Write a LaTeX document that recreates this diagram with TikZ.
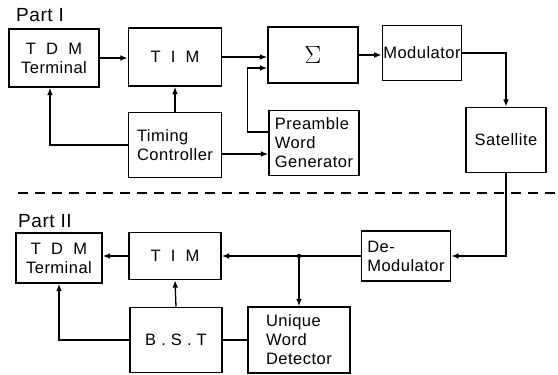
\documentclass[tikz,border=0pt]{standalone}
\usepackage{fontspec}
\setmainfont[LetterSpace=3]{Liberation Sans}
\usetikzlibrary{arrows.meta,positioning,calc}

\begin{document}
\begin{tikzpicture}[x=1pt,y=-1pt,
  every node/.style={font=\fontsize{16.5}{19}\selectfont},
  blk/.style={draw=black,line width=1.5pt,align=center,inner sep=2pt},
  blkl/.style={blk,align=left},
  part/.style={font=\fontsize{19}{19}\selectfont},
  ar/.style={-{Latex[length=2.6mm,width=2mm]},line width=1.3pt},
  ln/.style={line width=1.3pt}]
\useasboundingbox (0,0) rectangle (558,375);
% Part I
\node[part] (p1) at (40,15) {Part I};
\node[blk,minimum width=90,minimum height=58] (tdmA) at (54,58) {T\ \ D\ \ M\\Terminal};
\node[blk,minimum width=93,minimum height=58] (timA) at (175,57) {T\ \ I\ \ M};
\node[blk,minimum width=90,minimum height=56] (sumA) at (313,55) {\fontsize{26}{26}\selectfont$\Sigma$};
\node[blk,minimum width=79,minimum height=55,inner sep=1pt] (mod) at (422,53) {Modulator};
\node[blk,minimum width=80,minimum height=65,inner sep=1pt] (sat) at (506,140) {Satellite};
\node[blkl,minimum width=93,minimum height=65] (tc) at (175,145) {Timing\\Controller};
\node[blkl,minimum width=90,minimum height=65] (pwg) at (314,143) {Preamble\\Word\\Generator};
% Part II
\node[part] (p2) at (45,221) {Part II};
\node[blk,minimum width=86,minimum height=50] (tdmB) at (59,258) {T\ \ D\ \ M\\Terminal};
\node[blk,minimum width=92,minimum height=47] (timB) at (175,256) {T\ \ I\ \ M};
\node[blkl,minimum width=89,minimum height=50,inner sep=1pt] (demod) at (406,256) {De-\\Modulator};
\node[blk,minimum width=92,minimum height=65] (bst) at (176,340) {B . S . T};
\node[blkl,minimum width=102,minimum height=66] (uwd) at (299,340) {Unique\\Word\\Detector};
\coordinate (jn) at (demod.west -| uwd.north);
% connectors, part I
\draw[ar] (tdmA.east) -- (tdmA.east -| timA.west);
\draw[ar] (timA.east) -- (timA.east -| sumA.west);
\draw[ar] ([yshift=11pt]pwg.west) -- ++(-21,0) |- ([yshift=-13pt]sumA.west);
\draw[ar] ([yshift=-9pt]tc.east) -- ([yshift=-9pt]tc.east -| pwg.west);
\draw[ar] (tc.north) -- (timA.south);
\draw[ar] (tc.west) -| ([xshift=-4pt]tdmA.south);
\draw[ar] (sumA.east) -- (sumA.east -| mod.west);
\draw[ar] (mod.east) -| (sat.north);
% link to part II
\draw[dashed,line width=1.3pt,dash pattern=on 10pt off 7pt] (18,193) -- (558,193);
\draw[ar] (sat.south) |- (demod.east);
% connectors, part II
\draw[ar] (demod.west) -- (demod.west -| timB.east);
\fill (jn) circle (2.2pt);
\draw[ar] (jn) -- (uwd.north);
\draw[ar] (timB.west) -- (timB.west -| tdmB.east);
\draw[ar] (bst.north) -- (timB.south);
\draw[ar] (bst.west) -| (tdmB.south);
\draw[ln] (bst.east) -- (bst.east -| uwd.west);
\end{tikzpicture}
\end{document}
